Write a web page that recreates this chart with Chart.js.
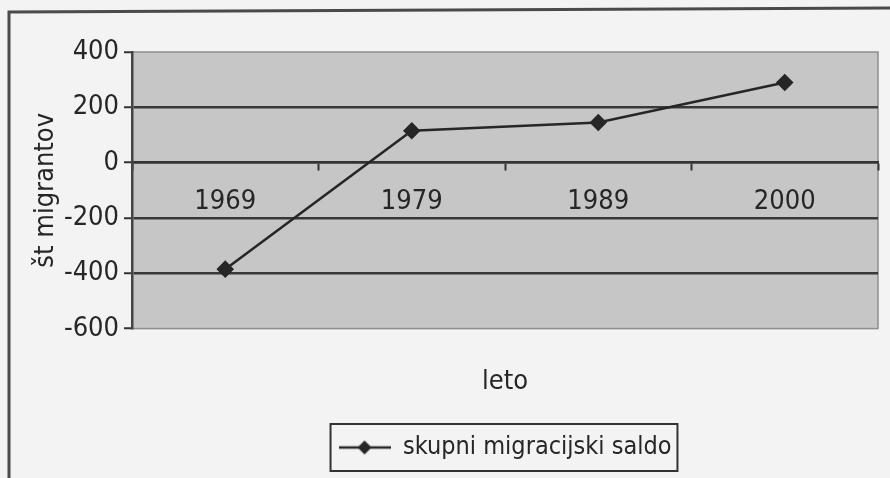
<!DOCTYPE html>
<html>
<head>
<meta charset="utf-8">
<script src="https://cdn.jsdelivr.net/npm/chart.js@4/dist/chart.umd.min.js"></script>
<style>
  html, body { margin: 0; padding: 0; background: #f3f3f3; }
  #wrap { width: 890px; height: 478px; position: relative; }
</style>
</head>
<body>
<div id="wrap"><canvas id="chart"></canvas></div>
<script>
/* ── Data ── */
const years = ['1969', '1979', '1989', '2000'];
const saldo = [-385, 115, 145, 290];
const yTicks = [-600, -400, -200, 0, 200, 400];

const FONT = "'Liberation Sans Narrow', 'Arial Narrow', 'DejaVu Sans Condensed', sans-serif";
const INK = '#262626';

/* legend symbol: line with a diamond */
function legendSymbol() {
  const c = document.createElement('canvas');
  c.width = 52; c.height = 16;
  const g = c.getContext('2d');
  g.strokeStyle = INK; g.lineWidth = 2.5;
  g.beginPath(); g.moveTo(0, 8); g.lineTo(52, 8); g.stroke();
  g.fillStyle = INK;
  g.beginPath(); g.moveTo(26, 1); g.lineTo(33, 8); g.lineTo(26, 15); g.lineTo(19, 8); g.closePath(); g.fill();
  return c;
}

/* page, frame and plot background */
const backdrop = {
  id: 'backdrop',
  beforeDraw(chart) {
    const { ctx, chartArea: a } = chart;
    ctx.save();
    ctx.fillStyle = '#f3f3f3';
    ctx.fillRect(0, 0, chart.width, chart.height);
    ctx.strokeStyle = '#4a4a4a'; ctx.lineWidth = 3;
    ctx.beginPath(); ctx.moveTo(9, 480); ctx.lineTo(9, 12); ctx.lineTo(890, 8); ctx.stroke();
    ctx.fillStyle = '#c6c6c6';
    ctx.fillRect(a.left, a.top, a.right - a.left, a.bottom - a.top);
    ctx.strokeStyle = '#8e8e8e'; ctx.lineWidth = 1.5;
    ctx.strokeRect(a.left, a.top, a.right - a.left, a.bottom - a.top);
    ctx.restore();
  },
  afterDraw(chart) {
    const lg = chart.legend;
    if (!lg || !lg.legendHitBoxes.length) return;
    const h = lg.legendHitBoxes[0];
    const { ctx } = chart;
    ctx.save();
    ctx.strokeStyle = '#333'; ctx.lineWidth = 2;
    ctx.strokeRect(h.left - 8, h.top - 11, h.width + 14, h.height + 22);
    ctx.restore();
  }
};

new Chart(document.getElementById('chart'), {
  type: 'line',
  data: {
    labels: years,
    datasets: [{
      label: 'skupni migracijski saldo',
      data: saldo,
      borderColor: INK,
      backgroundColor: INK,
      borderWidth: 2.5,
      pointStyle: 'rectRot',
      pointRadius: 7,
      pointBackgroundColor: INK,
      pointBorderColor: INK,
      tension: 0
    }]
  },
  options: {
    responsive: true,
    maintainAspectRatio: false,
    animation: false,
    layout: { padding: { left: 0, right: 12, top: 52, bottom: 8 } },
    plugins: {
      tooltip: { enabled: false },
      title: {
        display: true,
        text: 'leto',
        position: 'bottom',
        weight: 500,
        fullSize: false,
        color: INK,
        font: { family: FONT, size: 27, weight: 'normal' },
        padding: { top: 37, bottom: 27 }
      },
      legend: {
        position: 'bottom',
        fullSize: false,
        labels: {
          color: INK,
          font: { family: FONT, size: 25 },
          usePointStyle: true,
          pointStyleWidth: 52,
          padding: 10,
          generateLabels: chart => chart.data.datasets.map((d, i) => ({
            text: d.label,
            pointStyle: legendSymbol(),
            fontColor: INK,
            lineWidth: 0,
            datasetIndex: i
          }))
        }
      }
    },
    scales: {
      x: {
        type: 'category',
        position: { y: 0 },
        offset: true,
        grid: {
          offset: true,
          drawOnChartArea: false,
          drawTicks: true,
          tickLength: 7,
          tickWidth: 2,
          tickColor: '#333'
        },
        border: { display: true, color: '#333', width: 2.5 },
        ticks: {
          color: INK,
          padding: 16,
          maxRotation: 0,
          font: { family: FONT, size: 27 }
        }
      },
      y: {
        min: yTicks[0],
        max: yTicks[yTicks.length - 1],
        afterBuildTicks: s => { s.ticks = yTicks.map(v => ({ value: v })); },
        afterFit: s => { s.width = 132; },
        title: {
          display: true,
          text: 'št migrantov',
          color: INK,
          font: { family: FONT, size: 27 },
          padding: { top: 30, bottom: 0 }
        },
        grid: {
          color: c => (c.tick && (c.tick.value === 400 || c.tick.value === -600)) ? 'rgba(0,0,0,0)' : '#383838',
          lineWidth: 2.5,
          tickLength: 8,
          tickColor: '#333',
          tickWidth: 2
        },
        border: { display: true, color: '#444', width: 2.5 },
        ticks: {
          color: INK,
          padding: 5,
          font: { family: FONT, size: 27 }
        }
      }
    }
  },
  plugins: [backdrop]
});
</script>
</body>
</html>
